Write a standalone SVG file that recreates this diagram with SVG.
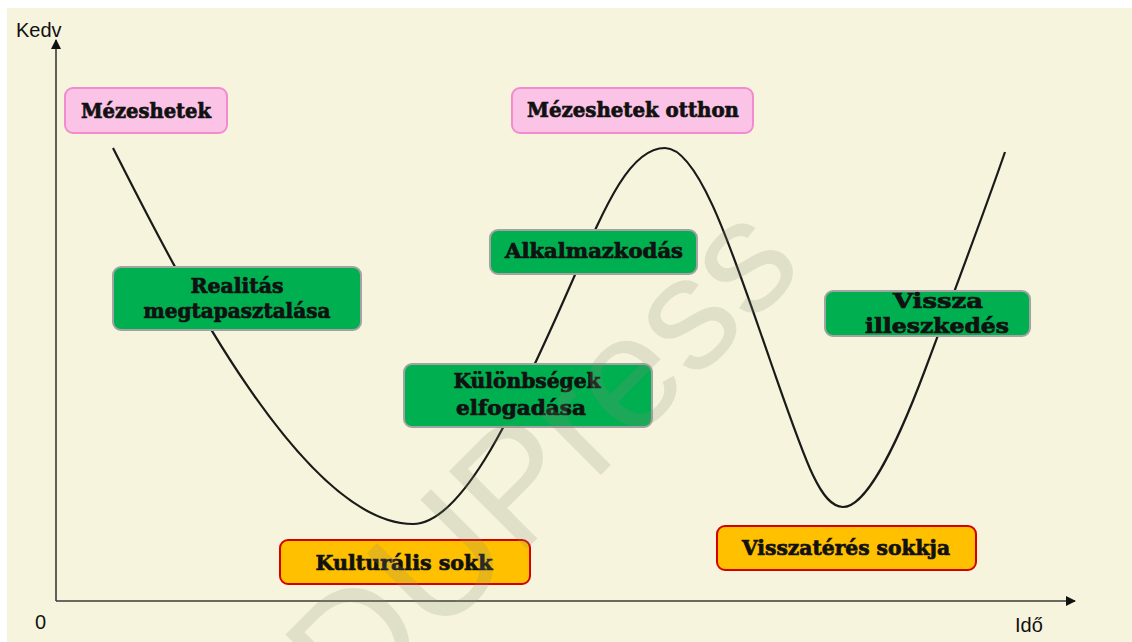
<svg xmlns="http://www.w3.org/2000/svg" width="1132" height="642" viewBox="0 0 1132 642">
  <defs>
    <style>
      .axis { stroke: #3a3a3a; stroke-width: 1.6; fill: none; }
      .curve { stroke: #1a1a1a; stroke-width: 2.2; fill: none; }
      .axis-label { font-family: "Liberation Sans", Arial, sans-serif; font-size: 20px; fill: #111; }
      .pink rect { fill: #fbc3e6; stroke: #f28ccf; stroke-width: 2; }
      .green rect { fill: #00b050; stroke: #a3a3a3; stroke-width: 2; }
      .yellow rect { fill: #ffc000; stroke: #d40000; stroke-width: 2; }
      .node text { font-family: "DejaVu Serif", "Liberation Serif", serif; font-weight: bold; font-size: 20px; fill: #111; stroke: #111; stroke-width: 0.7; text-anchor: middle; }
      .mark { font-family: "Liberation Sans", Arial, sans-serif; font-size: 160px; fill: #8c8c7a; fill-opacity: 0.2; text-anchor: middle; }
    </style>
    <marker id="arrow" viewBox="0 0 10 10" refX="9" refY="5" markerWidth="10" markerHeight="10" markerUnits="userSpaceOnUse" orient="auto">
      <path d="M0,0 L10,5 L0,10 z" fill="#111"/>
    </marker>
  </defs>

  <!-- canvas -->
  <rect x="0" y="0" width="1132" height="642" fill="#ffffff"/>
  <rect x="7" y="8" width="1125" height="634" fill="#f6f4dc"/>

  <!-- axes and the mood curve -->
  <g id="connectors">
    <line class="axis" x1="56" y1="601" x2="56" y2="40" marker-end="url(#arrow)"/>
    <line class="axis" x1="56" y1="601" x2="1075" y2="601" marker-end="url(#arrow)"/>
    <path class="curve" d="M113,148 C170,260 300,524 413,524 C460,524 510,420 555,320 C600,220 625,148 665,148 C700,148 735,260 770,360 C805,460 820,507 843,507 C865,507 895,450 925,370 C955,290 985,210 1005,152"/>
  </g>

  <!-- axis labels -->
  <text class="axis-label" x="16" y="37">Kedv</text>
  <text class="axis-label" x="35" y="629">0</text>
  <text class="axis-label" x="1015" y="632">Idő</text>

  <g id="mezeshetek" class="node pink">
    <rect x="65" y="88" width="162" height="45" rx="8"/>
    <text x="146" y="118" textLength="130" lengthAdjust="spacingAndGlyphs">Mézeshetek</text>
  </g>

  <g id="mezeshetek-otthon" class="node pink">
    <rect x="512" y="88" width="241" height="45" rx="8"/>
    <text x="633" y="117" textLength="212" lengthAdjust="spacingAndGlyphs">Mézeshetek otthon</text>
  </g>

  <g id="realitas" class="node green">
    <rect x="113" y="267" width="248" height="63" rx="8"/>
    <text x="237" y="293" textLength="93" lengthAdjust="spacingAndGlyphs">Realitás</text>
    <text x="237" y="318" textLength="187" lengthAdjust="spacingAndGlyphs">megtapasztalása</text>
  </g>

  <g id="alkalmazkodas" class="node green">
    <rect x="490" y="230" width="207" height="44" rx="8"/>
    <text x="594" y="258" textLength="178" lengthAdjust="spacingAndGlyphs">Alkalmazkodás</text>
  </g>

  <g id="kulonbsegek" class="node green">
    <rect x="404" y="364" width="248" height="63" rx="8"/>
    <text x="527" y="388" textLength="147" lengthAdjust="spacingAndGlyphs">Különbségek</text>
    <text x="521" y="415" textLength="130" lengthAdjust="spacingAndGlyphs">elfogadása</text>
  </g>

  <g id="vissza-illeszkedes" class="node green">
    <rect x="825" y="291" width="205" height="45" rx="8"/>
    <text x="938" y="308" textLength="90" lengthAdjust="spacingAndGlyphs">Vissza</text>
    <text x="937" y="333" textLength="144" lengthAdjust="spacingAndGlyphs">illeszkedés</text>
  </g>

  <g id="kulturalis-sokk" class="node yellow">
    <rect x="280" y="540" width="250" height="44" rx="8"/>
    <text x="404" y="570" textLength="177" lengthAdjust="spacingAndGlyphs">Kulturális sokk</text>
  </g>

  <g id="visszateres-sokkja" class="node yellow">
    <rect x="717" y="526" width="259" height="44" rx="8"/>
    <text x="846" y="555" textLength="208" lengthAdjust="spacingAndGlyphs">Visszatérés sokkja</text>
  </g>

  <!-- publisher watermark -->
  <text class="mark" transform="translate(540,455) rotate(-45)" x="0" y="57">DUPress</text>
</svg>
